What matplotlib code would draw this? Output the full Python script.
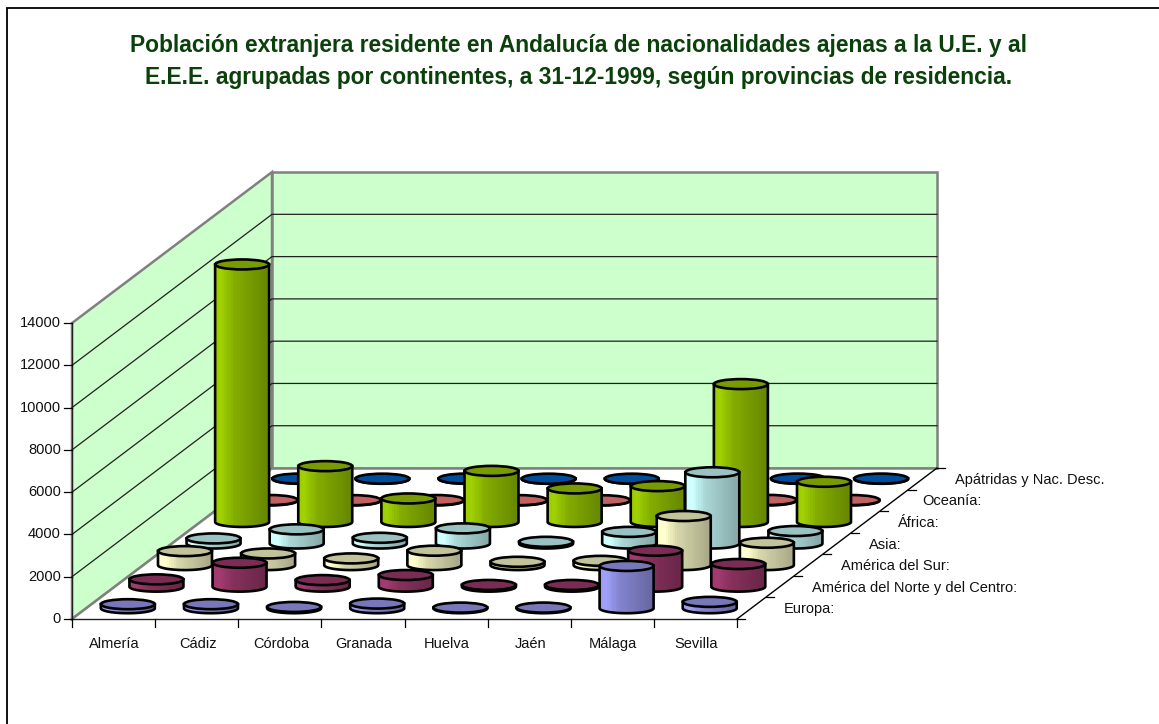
import numpy as np
import matplotlib
matplotlib.use('Agg')
import matplotlib.pyplot as plt
from matplotlib.patches import Polygon, Ellipse

provincias = ['Almería', 'Cádiz', 'Córdoba', 'Granada', 'Huelva', 'Jaén', 'Málaga', 'Sevilla']
continentes = ['Europa:', 'América del Norte y del Centro:', 'América del Sur:', 'Asia:',
               'África:', 'Oceanía:', 'Apátridas y Nac. Desc.']

europa = [190, 190, 60, 220, 30, 30, 2000, 300]
america_norte = [345, 1130, 310, 550, 80, 80, 1700, 1070]
america_sur = [660, 550, 315, 680, 155, 200, 2320, 1055]
asia = [240, 670, 270, 715, 80, 550, 3370, 590]
africa = [12180, 2640, 1110, 2415, 1585, 1695, 6520, 1900]
oceania = [15, 10, 15, 10, 5, 5, 20, 15]
apatridas = [10, 5, 10, 5, 5, 5, 10, 10]
series = [europa, america_norte, america_sur, asia, africa, oceania, apatridas]

colores = ['#9c9cf4', '#a03a6e', '#ffffcc', '#ccffff', '#9ccc00', '#ff8080', '#0066cc']
y_ticks = list(range(0, 14001, 2000))

TITLE = ('Población extranjera residente en Andalucía de nacionalidades ajenas a la U.E. y al\n'
         'E.E.E. agrupadas por continentes, a 31-12-1999, según provincias de residencia.')


def project(cat, depth, value):
    """Oblique projection of (category, series, value) to picture pixels."""
    x = 72 + 83.125 * cat + 28.57 * depth
    y = 619 - 21.57 * depth - 0.02114 * value
    return x, y


def shade(color, factor):
    rgb = np.array(matplotlib.colors.to_rgb(color)) * factor
    return np.clip(rgb, 0, 1)


def cylinder(ax, cat, depth, value, color, z):
    cx, base = project(cat, depth, 0)
    top = base - 0.02114 * value
    rx, ry = 27, 5
    t = np.linspace(0, np.pi, 40)
    bottom_arc = np.column_stack([cx + rx * np.cos(t), base + ry * np.sin(t)])
    body = np.vstack([[cx + rx, top], bottom_arc, [cx - rx, top]])

    # horizontal shading in thin strips, clipped to the body
    pos = np.linspace(0, 1, 24)
    fac = np.interp(pos, [0, 0.1, 0.35, 1], [1.0, 1.03, 0.85, 0.66])
    strip = np.array([shade(color, f) for f in fac])[np.newaxis, :, :]
    im = ax.imshow(strip, extent=(cx - rx, cx + rx, base + ry, top), aspect='auto',
                   interpolation='nearest', zorder=z)
    outline = Polygon(body, closed=True, facecolor='none', edgecolor='black', lw=1.9, zorder=z + 0.1)
    ax.add_patch(outline)
    im.set_clip_path(outline)
    ax.add_patch(Ellipse((cx, top), 2 * rx, 2 * ry, facecolor=shade(color, 0.76),
                         edgecolor='black', lw=1.9, zorder=z + 0.2))


fig = plt.figure(figsize=(11.59, 7.24), dpi=100)
ax = fig.add_axes([0, 0, 1, 1])
plt.rcParams['font.family'] = ['Liberation Sans', 'DejaVu Sans']

n_cat, n_ser, vmax = len(provincias), len(continentes), y_ticks[-1]

# outer frame, only top and left are in the picture
ax.plot([1159, 7, 7], [8, 8, 724], color='black', lw=1.3, solid_joinstyle='miter')

# walls and floor
back = [project(0, n_ser, 0), project(n_cat, n_ser, 0), project(n_cat, n_ser, vmax), project(0, n_ser, vmax)]
side = [project(0, 0, 0), project(0, n_ser, 0), project(0, n_ser, vmax), project(0, 0, vmax)]
floor = [project(0, 0, 0), project(n_cat, 0, 0), project(n_cat, n_ser, 0), project(0, n_ser, 0)]
ax.add_patch(Polygon(back, facecolor='#ccffcc', edgecolor='#808080', lw=1.8, zorder=1.2))
ax.add_patch(Polygon(side, facecolor='#ccffcc', edgecolor='#808080', lw=1.8, zorder=1))
ax.add_patch(Polygon(floor, facecolor='white', edgecolor='none', zorder=1.3))

for v in y_ticks[1:-1]:
    xs = [project(0, 0, v), project(0, n_ser, v), project(n_cat, n_ser, v)]
    ax.plot(*zip(*xs), color='#202020', lw=0.9, zorder=1.25)

# floor edges
ax.plot(*zip(project(0, 0, 0), project(0, n_ser, 0)), color='#808080', lw=1.8, zorder=1.4)
ax.plot(*zip(project(0, n_ser, 0), project(n_cat, n_ser, 0)), color='#808080', lw=1.8, zorder=1.4)
ax.plot(*zip(project(0, 0, 0), project(0, 0, vmax)), color='#202020', lw=0.9, zorder=1.4)
ax.plot(*zip(project(0, 0, 0), project(n_cat, 0, 0)), color='#202020', lw=1, zorder=1.4)
ax.plot(*zip(project(n_cat, 0, 0), project(n_cat, n_ser, 0)), color='black', lw=1, zorder=1.4)

# value axis
for v in y_ticks:
    x, y = project(0, 0, v)
    ax.plot([x - 8, x], [y, y], color='black', lw=0.9, zorder=1.5)
    ax.text(x - 11, y, str(v), ha='right', va='center', fontsize=10.5, color='#111111')

# category axis
for i in range(n_cat + 1):
    x, y = project(i, 0, 0)
    ax.plot([x, x], [y, y + 8], color='black', lw=0.9, zorder=1.5)
for i, name in enumerate(provincias):
    x, y = project(i + 0.5, 0, 0)
    ax.text(x + 1, y + 25, name, ha='center', va='center', fontsize=10.5, color='#111111')

# series axis
depth_label_x = [784, 812, 841, 869, 898, 922, 955]
for i in range(n_ser + 1):
    x, y = project(n_cat, i, 0)
    ax.plot([x, x + 8], [y, y], color='black', lw=0.9, zorder=1.5)
for i, name in enumerate(continentes):
    _, y = project(n_cat, i + 0.5, 0)
    ax.text(depth_label_x[i], y + 1, name, ha='left', va='center', fontsize=10.5, color='#111111')

# cylinders, back to front
z = 2
for k in range(n_ser - 1, -1, -1):
    for i in range(n_cat):
        cylinder(ax, i + 0.5, k + 0.5, series[k][i], colores[k], z)
        z += 1

ax.text(579, 61.5, TITLE, ha='center', va='center', fontsize=16.4, fontweight='bold',
        color='#0a400a', linespacing=1.54)

ax.set_xlim(0, 1159)
ax.set_ylim(724, 0)
ax.axis('off')
fig.savefig('out.png', dpi=100, facecolor='white')
